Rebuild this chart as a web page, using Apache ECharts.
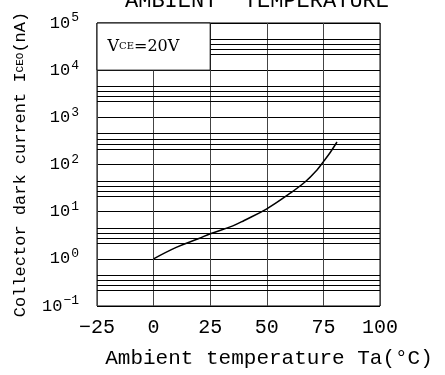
<!DOCTYPE html>
<html><head><meta charset="utf-8">
<script src="https://cdn.jsdelivr.net/npm/echarts@6/dist/echarts.min.js"></script>
<style>html,body{margin:0;padding:0;background:#fff}#c{width:445px;height:375px}</style>
</head><body><div id="c"></div>
<script>
// Data
var temps = [0, 10, 20, 25, 35, 40, 50, 60, 67, 72, 75, 78, 81];
var iceo  = [1.0, 1.75, 2.7, 3.4, 5.0, 6.5, 11.5, 24, 43, 75, 115, 180, 300];
var xTicks = [-25, 0, 25, 50, 75, 100];
var decades = [-1, 0, 1, 2, 3, 4, 5];
var minorFactors = [2.15, 2.75, 3.5, 4.5];

var FONT = 'Liberation Mono';
var minorLines = [];
decades.slice(0, -1).forEach(function (d) {
  minorFactors.forEach(function (f) {
    var v = f * Math.pow(10, d);
    if (d === 4) {
      minorLines.push([{coord: [25, v]}, {coord: [100, v]}]);
    } else {
      minorLines.push([{coord: [-25, v]}, {coord: [100, v]}]);
    }
  });
});

var chart = echarts.init(document.getElementById('c'), null, {renderer: 'canvas'});
chart.setOption({
  animation: false,
  backgroundColor: '#fff',
  title: {
    text: 'AMBIENT  TEMPERATURE', left: 252, textAlign: 'center', top: -15,
    textStyle: {fontFamily: FONT, fontSize: 22, fontWeight: 'normal', color: '#000'}
  },
  grid: {left: 97, right: 65, top: 23, bottom: 69, show: true, borderColor: '#000', borderWidth: 1},
  xAxis: {
    type: 'value', min: -25, max: 100, interval: 25,
    name: 'Ambient temperature Ta(°C)', nameLocation: 'middle', nameGap: 42,
    nameTextStyle: {fontFamily: FONT, fontSize: 21, color: '#000', padding: [0, 0, 0, 61]},
    axisLine: {show: false}, axisTick: {show: false},
    axisLabel: {fontFamily: FONT, fontSize: 20, color: '#000', margin: 12,
      formatter: function (v) { return v < 0 ? '\u2212' + Math.abs(v) : String(v); }},
    splitLine: {show: true, lineStyle: {color: '#444', width: 1}}
  },
  yAxis: {
    type: 'log', logBase: 10, min: 0.1, max: 100000,
    name: '{n|Collector dark current I}{s|CEO}{n|(nA)}', nameLocation: 'middle', nameGap: 68, nameRotate: 90,
    nameTextStyle: {rich: {
      n: {fontFamily: FONT, fontSize: 17, color: '#000'},
      s: {fontFamily: FONT, fontSize: 11, color: '#000'}
    }},
    axisLine: {show: false}, axisTick: {show: false},
    axisLabel: {
      margin: 18,
      formatter: function (v) {
        var e = Math.round(Math.log10(v));
        return '{b|10}{s|' + (e < 0 ? '\u2212' + Math.abs(e) : e) + '}';
      },
      rich: {
        b: {fontFamily: FONT, fontSize: 17, color: '#000'},
        s: {fontFamily: FONT, fontSize: 13, color: '#000', padding: [0, 0, 10, 1]}
      }
    },
    splitLine: {show: true, lineStyle: {color: '#000', width: 1}}
  },
  series: [
    {
      type: 'line', data: [], silent: true,
      markLine: {silent: true, symbol: 'none', animation: false,
        lineStyle: {color: '#000', width: 1, type: 'solid'}, label: {show: false},
        data: minorLines}
    },
    {
      type: 'line', data: [], silent: true,
      markArea: {silent: true, z: 10,
        itemStyle: {color: '#fff', borderColor: '#000', borderWidth: 1},
        label: {show: true, position: 'insideLeft', offset: [6, 0],
          formatter: '{a|V}{b|CE}{a|=20V}',
          rich: {a: {fontFamily: 'DejaVu Serif', fontSize: 16, color: '#000'},
                 b: {fontFamily: 'DejaVu Serif', fontSize: 10, color: '#000'}}},
        data: [[{coord: [-25, 10000]}, {coord: [25, 100000]}]]}
    },
    {
      type: 'line', smooth: 0.4, symbol: 'none', z: 20,
      lineStyle: {color: '#000', width: 1.5},
      data: temps.map(function (t, i) { return [t, iceo[i]]; })
    }
  ]
});
</script></body></html>
